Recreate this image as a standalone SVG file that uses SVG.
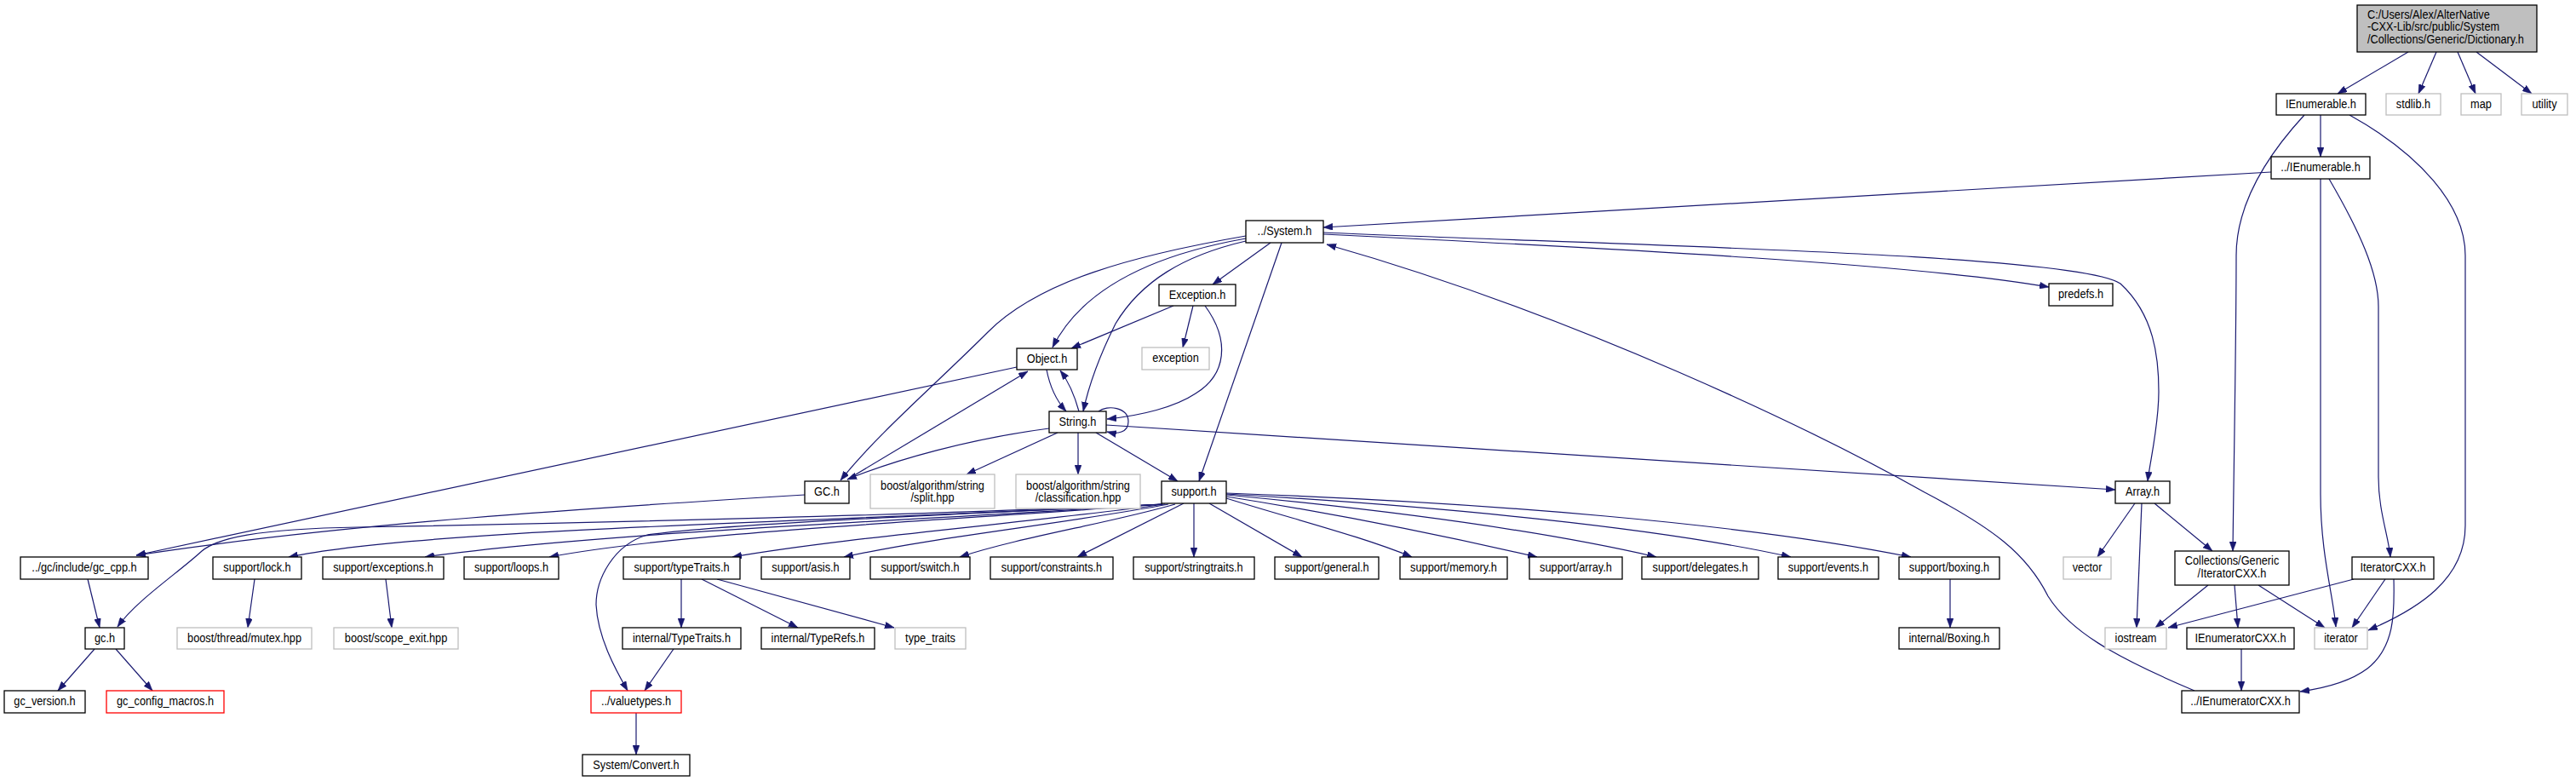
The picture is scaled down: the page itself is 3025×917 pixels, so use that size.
<svg xmlns="http://www.w3.org/2000/svg" width="3025" height="917" viewBox="0 0 3025 917">
<style>
rect{fill:#fff;stroke:#000;stroke-width:1.3}
.g rect{stroke:#bfbfbf}
.r rect{stroke:#ff0000}
.m rect{fill:#bfbfbf}
text{font-family:"Liberation Sans",Arial,sans-serif;font-size:14.5px;fill:#000;text-anchor:middle;transform-box:fill-box;transform-origin:center;transform:scaleX(0.88)}
.m text{text-anchor:start;transform-origin:left center}
.e path{fill:none;stroke:#191970;stroke-width:1.2;marker-end:url(#ah)}
</style>
<defs>
<marker id="ah" viewBox="0 0 11 8" refX="11" refY="4" markerWidth="11" markerHeight="8" markerUnits="userSpaceOnUse" orient="auto"><path d="M0,0 L11,4 L0,8 z" fill="#191970" stroke="#191970" stroke-width="0.5"/></marker>
</defs>
<rect x="0" y="0" width="3025" height="917" style="fill:#fff;stroke:none"/>
<g class="e" id="edges">
<path d="M2828,61 L2745,110"/>
<path d="M2861,61 L2840,110"/>
<path d="M2886,61 L2907,110"/>
<path d="M2908,61 L2973,110"/>
<path d="M2725,135 L2725,184"/>
<path d="M2706,135 C2660,185 2626,240 2626,300 C2626,400 2623,560 2622,647"/>
<path d="M2759,135 C2840,180 2895,240 2895,300 L2895,617 C2895,680 2840,715 2781,740"/>
<path d="M2667,202 L1554,267"/>
<path d="M2725,210 L2725,580 C2725,650 2740,700 2743,736"/>
<path d="M2735,210 C2770,270 2793,320 2793,360 L2793,560 C2793,600 2805,630 2807,654"/>
<path d="M1554,275 C1900,292 2250,310 2406,337"/>
<path d="M1554,273 C1900,288 2440,298 2490,333 C2530,370 2535,420 2535,460 C2535,500 2525,540 2522,565"/>
<path d="M1492,285 L1424,334"/>
<path d="M1463,280 C1350,300 1270,340 1236,408"/>
<path d="M1463,283 C1390,300 1340,330 1310,380 C1290,420 1278,455 1272,483"/>
<path d="M1463,277 C1330,300 1220,330 1160,390 C1100,450 1030,510 987,564"/>
<path d="M1505,285 L1408,565"/>
<path d="M1378,359 L1258,409"/>
<path d="M1401,359 L1389,408"/>
<path d="M1415,359 C1445,400 1440,440 1404,462 C1380,478 1340,488 1300,492"/>
<path d="M1229,434 C1233,455 1242,472 1252,483"/>
<path d="M1267,483 C1262,465 1255,448 1245,435"/>
<path d="M1290,483 C1300,475 1325,478 1325,495 C1325,508 1312,510 1300,507"/>
<path d="M1232,503 C1140,515 1050,540 995,563"/>
<path d="M1242,508 L1135,557"/>
<path d="M1266,508 L1266,557"/>
<path d="M1287,508 L1383,565"/>
<path d="M1299,499 L2484,575"/>
<path d="M995,563 L1207,436"/>
<path d="M1194,431 L160,652"/>
<path d="M945,581 C700,596 400,615 160,652"/>
<path d="M1365,592 C1100,604 700,614 420,619 C300,621 255,632 237,647 C210,672 160,705 138,736"/>
<path d="M1365,592 C1000,612 500,620 339,654"/>
<path d="M1365,592 C1100,610 700,625 499,654"/>
<path d="M1365,592 C1100,612 800,625 645,654"/>
<path d="M1365,592 C1100,605 850,615 760,628 C720,640 700,680 700,710 C702,750 725,790 737,811"/>
<path d="M1368,592 C1200,615 1000,630 860,654"/>
<path d="M1372,592 C1250,615 1100,630 991,654"/>
<path d="M1380,592 C1300,615 1200,630 1127,654"/>
<path d="M1390,591 L1265,654"/>
<path d="M1402,591 L1402,654"/>
<path d="M1420,591 L1529,654"/>
<path d="M1440,585 C1520,610 1600,630 1658,654"/>
<path d="M1440,583 C1580,605 1700,630 1805,654"/>
<path d="M1440,581 C1640,600 1820,625 1945,654"/>
<path d="M1440,580 C1700,595 1950,620 2103,654"/>
<path d="M1440,579 C1750,590 2050,615 2244,654"/>
<path d="M2290,680 L2290,737"/>
<path d="M2507,591 L2463,654"/>
<path d="M2515,591 L2509,737"/>
<path d="M2530,591 L2598,647"/>
<path d="M2593,687 L2531,737"/>
<path d="M2624,687 L2628,737"/>
<path d="M2652,687 L2730,737"/>
<path d="M2764,680 L2546,737"/>
<path d="M2801,680 L2762,737"/>
<path d="M2811,680 C2812,720 2812,760 2780,785 C2760,800 2730,808 2701,812"/>
<path d="M2632,762 L2632,811"/>
<path d="M2577,811 C2480,770 2430,740 2405,700 C2380,650 2340,620 2260,578 C2130,505 1850,370 1558,287"/>
<path d="M103,680 L117,737"/>
<path d="M111,762 L68,811"/>
<path d="M136,762 L179,811"/>
<path d="M299,680 L291,737"/>
<path d="M453,680 L460,737"/>
<path d="M800,680 L800,737"/>
<path d="M824,680 L937,737"/>
<path d="M842,680 L1050,737"/>
<path d="M791,762 L757,811"/>
<path d="M747,837 L747,886"/>
</g>
<g id="n_main" class="m"><rect x="2768" y="6" width="211" height="55"/><text x="2780" y="22">C:/Users/Alex/AlterNative</text><text x="2780" y="36.5">-CXX-Lib/src/public/System</text><text x="2780" y="51">/Collections/Generic/Dictionary.h</text></g>
<g id="n_ienumerable"><rect x="2673" y="110" width="105" height="25"/><text x="2725.5" y="127.5">IEnumerable.h</text></g>
<g id="n_stdlib" class="g"><rect x="2802" y="110" width="64" height="25"/><text x="2834" y="127.5">stdlib.h</text></g>
<g id="n_map" class="g"><rect x="2890" y="110" width="47" height="25"/><text x="2913.5" y="127.5">map</text></g>
<g id="n_utility" class="g"><rect x="2961" y="110" width="54" height="25"/><text x="2988" y="127.5">utility</text></g>
<g id="n_ienumerable2"><rect x="2667" y="184" width="116" height="26"/><text x="2725" y="201.5">../IEnumerable.h</text></g>
<g id="n_system"><rect x="1463" y="259" width="91" height="26"/><text x="1508.5" y="276.5">../System.h</text></g>
<g id="n_predefs"><rect x="2406" y="333" width="75" height="26"/><text x="2443.5" y="350.5">predefs.h</text></g>
<g id="n_exceptionh"><rect x="1361" y="334" width="90" height="25"/><text x="1406" y="351.5">Exception.h</text></g>
<g id="n_exception" class="g"><rect x="1341" y="408" width="79" height="26"/><text x="1380.5" y="425.5">exception</text></g>
<g id="n_object"><rect x="1194" y="409" width="71" height="25"/><text x="1229.5" y="426.5">Object.h</text></g>
<g id="n_string"><rect x="1232" y="483" width="67" height="25"/><text x="1265.5" y="500.5">String.h</text></g>
<g id="n_GC"><rect x="945" y="565" width="52" height="26"/><text x="971" y="582.5">GC.h</text></g>
<g id="n_split" class="g"><rect x="1022" y="557" width="146" height="40"/><text x="1095" y="575">boost/algorithm/string</text><text x="1095" y="589">/split.hpp</text></g>
<g id="n_classification" class="g"><rect x="1193" y="557" width="146" height="40"/><text x="1266" y="575">boost/algorithm/string</text><text x="1266" y="589">/classification.hpp</text></g>
<g id="n_support"><rect x="1364" y="565" width="76" height="26"/><text x="1402" y="582.5">support.h</text></g>
<g id="n_array"><rect x="2484" y="565" width="64" height="26"/><text x="2516" y="582.5">Array.h</text></g>
<g id="n_gccpp"><rect x="24" y="654" width="150" height="26"/><text x="99" y="671.5">../gc/include/gc_cpp.h</text></g>
<g id="n_lock"><rect x="250" y="654" width="104" height="26"/><text x="302" y="671.5">support/lock.h</text></g>
<g id="n_sexceptions"><rect x="379" y="654" width="142" height="26"/><text x="450" y="671.5">support/exceptions.h</text></g>
<g id="n_loops"><rect x="545" y="654" width="111" height="26"/><text x="600.5" y="671.5">support/loops.h</text></g>
<g id="n_typetraits"><rect x="732" y="654" width="137" height="26"/><text x="800.5" y="671.5">support/typeTraits.h</text></g>
<g id="n_asis"><rect x="894" y="654" width="104" height="26"/><text x="946" y="671.5">support/asis.h</text></g>
<g id="n_switch"><rect x="1022" y="654" width="117" height="26"/><text x="1080.5" y="671.5">support/switch.h</text></g>
<g id="n_constraints"><rect x="1163" y="654" width="144" height="26"/><text x="1235" y="671.5">support/constraints.h</text></g>
<g id="n_stringtraits"><rect x="1331" y="654" width="142" height="26"/><text x="1402" y="671.5">support/stringtraits.h</text></g>
<g id="n_general"><rect x="1497" y="654" width="122" height="26"/><text x="1558" y="671.5">support/general.h</text></g>
<g id="n_memory"><rect x="1644" y="654" width="126" height="26"/><text x="1707" y="671.5">support/memory.h</text></g>
<g id="n_sarray"><rect x="1796" y="654" width="109" height="26"/><text x="1850.5" y="671.5">support/array.h</text></g>
<g id="n_delegates"><rect x="1928" y="654" width="137" height="26"/><text x="1996.5" y="671.5">support/delegates.h</text></g>
<g id="n_events"><rect x="2088" y="654" width="118" height="26"/><text x="2147" y="671.5">support/events.h</text></g>
<g id="n_boxing"><rect x="2230" y="654" width="118" height="26"/><text x="2289" y="671.5">support/boxing.h</text></g>
<g id="n_vector" class="g"><rect x="2423" y="654" width="56" height="26"/><text x="2451" y="671.5">vector</text></g>
<g id="n_colliter"><rect x="2554" y="647" width="134" height="40"/><text x="2621" y="663.5">Collections/Generic</text><text x="2621" y="678">/IteratorCXX.h</text></g>
<g id="n_iteratorcxx"><rect x="2762" y="654" width="96" height="26"/><text x="2810" y="671.5">IteratorCXX.h</text></g>
<g id="n_gch"><rect x="100" y="737" width="46" height="25"/><text x="123" y="754.5">gc.h</text></g>
<g id="n_mutex" class="g"><rect x="208" y="737" width="158" height="25"/><text x="287" y="754.5">boost/thread/mutex.hpp</text></g>
<g id="n_scopeexit" class="g"><rect x="392" y="737" width="146" height="25"/><text x="465" y="754.5">boost/scope_exit.hpp</text></g>
<g id="n_itypetraits"><rect x="731" y="737" width="139" height="25"/><text x="800.5" y="754.5">internal/TypeTraits.h</text></g>
<g id="n_typerefs"><rect x="894" y="737" width="133" height="25"/><text x="960.5" y="754.5">internal/TypeRefs.h</text></g>
<g id="n_type_traits" class="g"><rect x="1051" y="737" width="83" height="25"/><text x="1092.5" y="754.5">type_traits</text></g>
<g id="n_iboxing"><rect x="2230" y="737" width="118" height="25"/><text x="2289" y="754.5">internal/Boxing.h</text></g>
<g id="n_iostream" class="g"><rect x="2472" y="737" width="72" height="25"/><text x="2508" y="754.5">iostream</text></g>
<g id="n_ienumeratorcxx"><rect x="2568" y="737" width="126" height="25"/><text x="2631" y="754.5">IEnumeratorCXX.h</text></g>
<g id="n_iterator" class="g"><rect x="2718" y="737" width="62" height="25"/><text x="2749" y="754.5">iterator</text></g>
<g id="n_gcversion"><rect x="5" y="811" width="95" height="26"/><text x="52.5" y="828.5">gc_version.h</text></g>
<g id="n_gcconfig" class="r"><rect x="125" y="811" width="138" height="26"/><text x="194" y="828.5">gc_config_macros.h</text></g>
<g id="n_valuetypes" class="r"><rect x="694" y="811" width="106" height="26"/><text x="747" y="828.5">../valuetypes.h</text></g>
<g id="n_ienumeratorcxx2"><rect x="2562" y="811" width="138" height="26"/><text x="2631" y="828.5">../IEnumeratorCXX.h</text></g>
<g id="n_convert"><rect x="684" y="886" width="126" height="25"/><text x="747" y="903.5">System/Convert.h</text></g>
</svg>
